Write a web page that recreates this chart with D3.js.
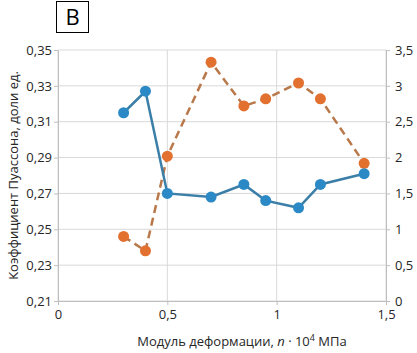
<!DOCTYPE html>
<html>
<head>
<meta charset="utf-8">
<script src="https://cdn.jsdelivr.net/npm/d3@7"></script>
<style>
    body { margin: 0; background: #fff; }
    svg text { font-family: "Open Sans", "Noto Sans", sans-serif; fill: #262626; }
</style>
</head>
<body>
<div id="chart"></div>
<script>
// модуль деформации, n·10^4 МПа
var modulus = [0.3, 0.4, 0.5, 0.7, 0.85, 0.95, 1.1, 1.2, 1.4];
// коэффициент Пуассона (левая ось)
var poisson = [0.315, 0.327, 0.270, 0.268, 0.275, 0.266, 0.262, 0.275, 0.281];
// вторая величина (правая ось)
var rightSeries = [0.9, 0.7, 2.02, 3.33, 2.72, 2.82, 3.04, 2.82, 1.92];

var xTicks = [0, 0.5, 1, 1.5];
var yLeftTicks = [0.21, 0.23, 0.25, 0.27, 0.29, 0.31, 0.33, 0.35];
var yRightTicks = [0, 0.5, 1, 1.5, 2, 2.5, 3, 3.5];

var margin = { left: 58, top: 50, right: 31, bottom: 52 };
var width = 417, height = 353;
var plotW = width - margin.left - margin.right;
var plotH = height - margin.top - margin.bottom;

var fmt = function (d) { return String(d).replace('.', ','); };

var svg = d3.select('#chart')
    .append('svg')
    .attr('width', width)
    .attr('height', height);

var xScale = d3.scaleLinear().domain([0, 1.5]).range([margin.left, margin.left + plotW]);
var yLeft = d3.scaleLinear().domain([0.21, 0.35]).range([margin.top + plotH, margin.top]);
var yRight = d3.scaleLinear().domain([0, 3.5]).range([margin.top + plotH, margin.top]);

// сетка
svg.append('g')
    .selectAll('line')
    .data(yLeftTicks)
    .enter()
    .append('line')
    .attr('x1', margin.left)
    .attr('x2', margin.left + plotW)
    .attr('y1', d => yLeft(d))
    .attr('y2', d => yLeft(d))
    .style('stroke', '#d9d9d9')
    .style('stroke-width', 1);

svg.append('g')
    .selectAll('line')
    .data(xTicks)
    .enter()
    .append('line')
    .attr('x1', d => xScale(d))
    .attr('x2', d => xScale(d))
    .attr('y1', margin.top)
    .attr('y2', margin.top + plotH)
    .style('stroke', '#d9d9d9')
    .style('stroke-width', 1);

// оси
var axisColor = '#bfbfbf';
function styleAxis(g) {
    g.select('.domain').style('stroke', axisColor);
    g.selectAll('.tick line').style('stroke', axisColor);
    g.selectAll('.tick text')
        .style('font-size', '13px')
        .style('fill', '#262626');
}

svg.append('g')
    .attr('transform', 'translate(' + margin.left + ',0)')
    .call(d3.axisLeft(yLeft).tickValues(yLeftTicks).tickFormat(fmt).tickSize(4).tickSizeOuter(0).tickPadding(2))
    .call(styleAxis);

svg.append('g')
    .attr('transform', 'translate(' + (margin.left + plotW) + ',0)')
    .call(d3.axisRight(yRight).tickValues(yRightTicks).tickFormat(fmt).tickSize(4).tickSizeOuter(0).tickPadding(5))
    .call(styleAxis);

svg.append('g')
    .attr('transform', 'translate(0,' + (margin.top + plotH) + ')')
    .call(d3.axisBottom(xScale).tickValues(xTicks).tickFormat(fmt).tickSize(4).tickSizeOuter(0).tickPadding(5))
    .call(styleAxis);

// линии
var lineLeft = d3.line()
    .x((d, i) => xScale(modulus[i]))
    .y(d => yLeft(d));
var lineRight = d3.line()
    .x((d, i) => xScale(modulus[i]))
    .y(d => yRight(d));

svg.append('path')
    .datum(rightSeries)
    .attr('d', lineRight)
    .style('fill', 'none')
    .style('stroke', '#b8784a')
    .style('stroke-width', 2.5)
    .style('stroke-dasharray', '8,5');

svg.append('path')
    .datum(poisson)
    .attr('d', lineLeft)
    .style('fill', 'none')
    .style('stroke', '#3b7fa8')
    .style('stroke-width', 2.5);

svg.append('g')
    .selectAll('circle')
    .data(rightSeries)
    .enter()
    .append('circle')
    .attr('cx', (d, i) => xScale(modulus[i]))
    .attr('cy', d => yRight(d))
    .attr('r', 5.5)
    .style('fill', '#e2702e');

svg.append('g')
    .selectAll('circle')
    .data(poisson)
    .enter()
    .append('circle')
    .attr('cx', (d, i) => xScale(modulus[i]))
    .attr('cy', d => yLeft(d))
    .attr('r', 5.5)
    .style('fill', '#2b8ac6');

// подписи осей
svg.append('text')
    .attr('transform', 'translate(13,' + (margin.top + plotH / 2) + ') rotate(-90)')
    .attr('dy', '0.35em')
    .style('text-anchor', 'middle')
    .style('font-size', '13px')
    .text('Коэффициент Пуассона, доли ед.');

var xTitle = svg.append('text')
    .attr('x', 242)
    .attr('y', 346)
    .style('text-anchor', 'middle')
    .style('font-size', '13px');
xTitle.append('tspan').text('Модуль деформации, ');
xTitle.append('tspan').style('font-style', 'italic').text('n');
xTitle.append('tspan').text(' · 10');
xTitle.append('tspan').attr('dy', -5).style('font-size', '9px').text('4');
xTitle.append('tspan').attr('dy', 5).text(' МПа');

// метка панели
svg.append('rect')
    .attr('x', 56.5)
    .attr('y', 1.5)
    .attr('width', 32)
    .attr('height', 31)
    .style('fill', '#fff')
    .style('stroke', '#000')
    .style('stroke-width', 1);
svg.append('text')
    .attr('x', 72.5)
    .attr('y', 17)
    .attr('dy', '0.35em')
    .style('text-anchor', 'middle')
    .style('font-size', '22px')
    .style('fill', '#000')
    .text('B');
</script>
</body>
</html>
